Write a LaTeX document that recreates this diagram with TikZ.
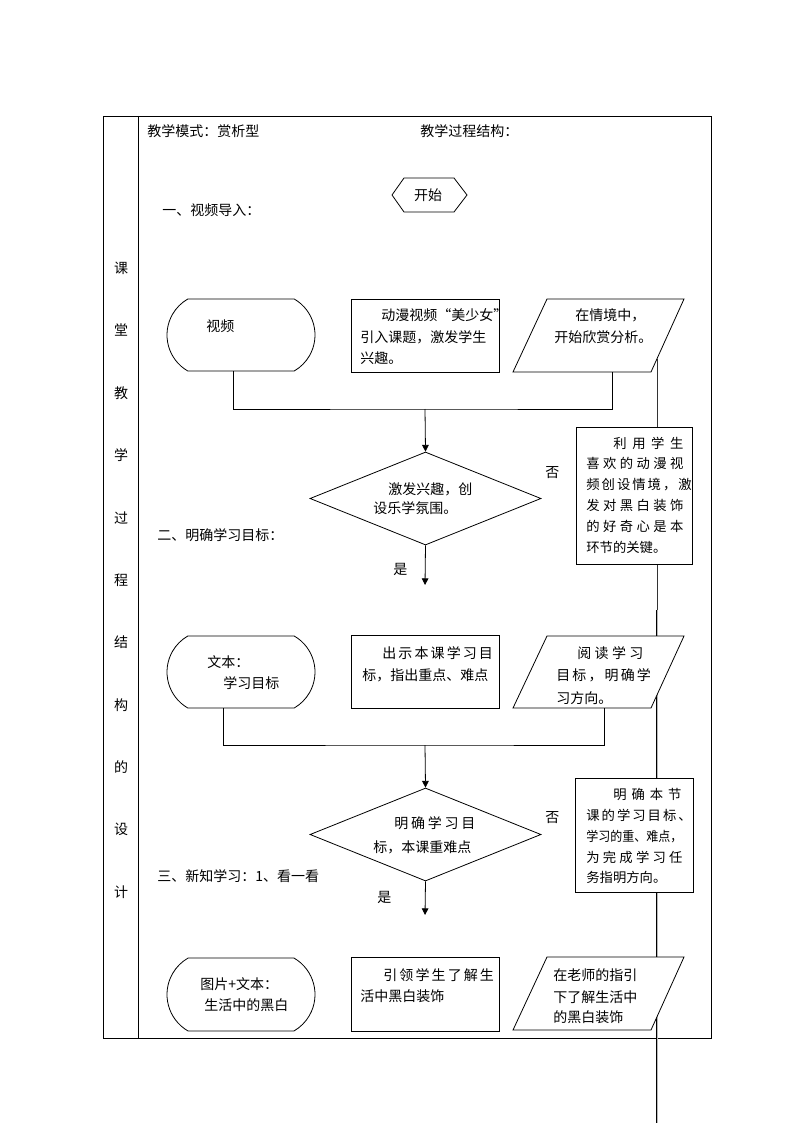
\documentclass[tikz,border=0pt]{standalone}
\usepackage{fontspec}
\setmainfont{Noto Sans CJK SC}
\usetikzlibrary{arrows.meta,shapes.geometric,shapes.misc,calc}
\newdimen\pxunit \pxunit=0.75pt
\newcommand\spr[2]{\makebox[#1\pxunit][s]{#2}}
\begin{document}
\begin{tikzpicture}[x=0.75pt,y=-0.75pt,
  line width=0.6pt,
  txt/.style={inner sep=0pt, anchor=west, font=\fontsize{10.5}{12}\selectfont},
  notetxt/.style={inner sep=0pt, anchor=west, font=\fontsize{10}{12}\selectfont},
  colchar/.style={inner sep=0pt, font=\fontsize{10.5}{12}\selectfont},
  shapebox/.style={draw, fill=white, inner sep=0pt},
  termbox/.style={shapebox, rounded rectangle, rounded rectangle arc length=120, minimum width=148*0.75pt, minimum height=72*0.75pt},
  procbox/.style={shapebox, rectangle, minimum width=148*0.75pt, minimum height=73*0.75pt},
  decbox/.style={shapebox, diamond, minimum width=231*0.75pt, minimum height=93*0.75pt},
  notebox/.style={shapebox, rectangle},
  arr/.style={-{Triangle[length=5pt,width=5pt]}},
]
\useasboundingbox (0,0) rectangle (794,1123);
% table frame
\draw (103,116) rectangle (711,1038);
\draw (138,116) -- (138,1038);
% left column
\foreach \ch [count=\i from 0] in {课,堂,教,学,过,程,结,构,的,设,计}{
  \node[colchar] (lc\i) at (121,268+62.4*\i) {\ch};
}
% headers
\node[txt] (hdr1) at (147,131) {教学模式：赏析型};
\node[txt] (hdr2) at (420,131) {教学过程结构：};
% long vertical line (behind shapes)
\coordinate (vtop) at (657,359);
\coordinate (vmid) at (657,610);
\coordinate (vbot) at (657,1123);
\draw[black!80] (vtop) -- (vmid);
\draw[double=gray!55, double distance=0.7pt, line width=0.6pt] (vmid) -- (vbot);
% start
\draw[fill=white] (392,195) -- (404,178) -- (454,178) -- (467,195) -- (454,212) -- (404,212) -- cycle;
\node[txt, anchor=center] (start) at (428,195) {开始};
\node[txt] (sec1) at (162,210) {一、视频导入：};
% row 1
\node[termbox] (t1) at (241,335) {};
\node[procbox] (r1) at (425,335.5) {};
\draw[fill=white] (547,299) -- (684,299) -- (651,372) -- (513,372) -- cycle;
\coordinate (p1b) at (612,372);
\node[txt] (t1a) at (206,326) {视频};
\node[txt] (r1a) at (381,315) {动漫视频“美少女”};
\node[txt] (r1b) at (360,337) {引入课题，激发学生};
\node[txt] (r1c) at (360,358) {兴趣。};
\node[txt] (p1x) at (575,315) {在情境中，};
\node[txt] (p1y) at (554,337) {开始欣赏分析。};
\coordinate (j1) at (425,409);
\draw ($(t1.south)+(-8,0)$) |- (j1) -| (p1b);
\node[decbox] (d1) at (425.5,498.5) {};
\draw[arr] (j1) -- (d1.north);
\coordinate (e1) at (425,585);
\draw[arr] (d1.south) -- (e1);
\node[txt] (d1a) at (388,489) {激发兴趣，创};
\node[txt] (d1b) at (373,508) {设乐学氛围。};
\node[txt] (no1) at (545,473) {否};
\node[txt] (yes1) at (393,569) {是};
\node[notebox, minimum width=116*0.75pt, minimum height=137*0.75pt] (n1) at (634,495.5) {};
\node[notetxt] (n1a) at (613,443) {\spr{70}{利 用 学 生}};
\node[notetxt] (n1b) at (586,463.8) {\spr{97}{喜 欢 的 动 漫 视}};
\node[notetxt] (n1c) at (586,484.6) {\spr{97}{频 创 设 情 境 ， 激}};
\node[notetxt] (n1d) at (586,505.4) {\spr{97}{发 对 黑 白 装 饰}};
\node[notetxt] (n1e) at (586,526.2) {\spr{97}{的 好 奇 心 是 本}};
\node[notetxt] (n1f) at (586,547) {环节的关键。};
% row 2
\node[txt] (sec2) at (157,535) {二、明确学习目标：};
\node[termbox] (t2) at (241,672) {};
\node[procbox] (r2) at (425,671.5) {};
\draw[fill=white] (547,636) -- (684,636) -- (651,708) -- (513,708) -- cycle;
\coordinate (p2b) at (604,708);
\node[txt] (t2a) at (207,662) {文本：};
\node[txt] (t2b) at (223,683) {学习目标};
\node[txt] (r2a) at (382,653) {\spr{107}{出 示 本 课 学 习 目}};
\node[txt] (r2b) at (362,675) {标，指出重点、难点};
\node[txt] (p2x) at (577,653) {\spr{66}{阅 读 学 习}};
\node[txt] (p2y) at (556,675) {\spr{91}{目 标 ， 明 确 学}};
\node[txt] (p2z) at (556,698) {习方向。};
\coordinate (j2) at (425,745);
\draw ($(t2.south)+(-18,0)$) |- (j2) -| (p2b);
\node[decbox] (d2) at (425.5,834.5) {};
\draw[arr] (j2) -- (d2.north);
\coordinate (e2) at (425,915);
\draw[arr] (d2.south) -- (e2);
\node[txt] (d2a) at (394,823) {\spr{81}{明 确 学 习 目}};
\node[txt] (d2b) at (373,847) {标，本课重难点};
\node[txt] (no2) at (545,818) {否};
\node[txt] (yes2) at (377,897) {是};
\node[notebox, minimum width=118*0.75pt, minimum height=114*0.75pt] (n2) at (634,835) {};
\node[notetxt] (n2a) at (613,794) {\spr{68}{明 确 本 节}};
\node[notetxt] (n2b) at (586,815.5) {\spr{95}{课 的 学 习 目 标 、}};
\node[notetxt] (n2c) at (586,836.5) {\scalebox{0.9}[1]{学习的重、难点，}};
\node[notetxt] (n2d) at (586,857) {\spr{96}{为 完 成 学 习 任}};
\node[notetxt] (n2e) at (586,877) {务指明方向。};
% row 3
\node[txt] (sec3) at (157,876) {三、新知学习：1、看一看};
\node[termbox, minimum height=73*0.75pt] (t3) at (241,994.5) {};
\node[procbox, minimum height=74*0.75pt] (r3) at (425,994) {};
\draw[fill=white] (547,957) -- (684,957) -- (651,1030) -- (513,1030) -- cycle;
\node[txt] (t3a) at (200,984) {图片+文本：};
\node[txt] (t3b) at (204,1005) {生活中的黑白};
\node[txt] (r3a) at (383,975) {\spr{106}{引 领 学 生 了 解 生}};
\node[txt] (r3b) at (360,996) {活中黑白装饰};
\node[txt] (p3x) at (553,975) {在老师的指引};
\node[txt] (p3y) at (553,997) {下了解生活中};
\node[txt] (p3z) at (553,1017) {的黑白装饰};
\end{tikzpicture}
\end{document}
